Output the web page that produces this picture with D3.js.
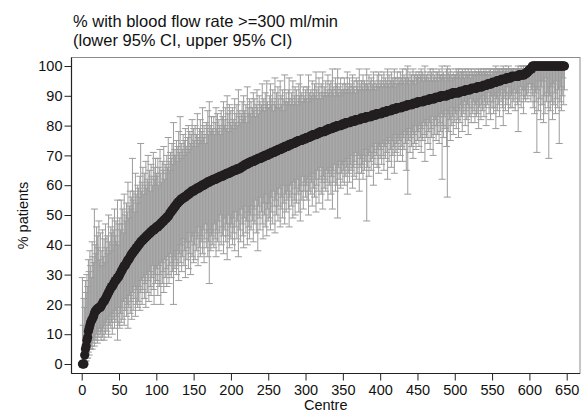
<!DOCTYPE html>
<html>
<head>
<meta charset="utf-8">
<script src="https://cdn.jsdelivr.net/npm/d3@7"></script>
<style>
  body { margin: 0; background: #fff; }
  svg { display: block; font-family: "Liberation Sans", Arial, sans-serif; }
</style>
</head>
<body>
<svg id="chart" width="587" height="412"></svg>
<script>
// % of patients per centre (sorted), one value per centre, 25 centres per row
const est = [
  0,0,0,3,5, 6,8,9,11,12, 13,14,14.5,15,15.5, 16,17,17.5,18,18, 18.5,18.5,19,19,19,
  19.5,20,20.5,21,21, 21.5,22,22.5,23,23.5, 24,24.5,25,25.5,26, 26,26.5,27,27.5,28, 28,28.5,29,29,29.5,
  30,30.5,31,31.5,32, 32.5,33,33,33.5,34, 34.5,35,35,35.5,36, 36.5,37,37,37.5,38, 38,38.5,39,39,39.5,
  40,40,40.5,41,41, 41.5,41.5,42,42,42.5, 42.5,43,43,43.5,43.5, 44,44,44.5,44.5,45, 45,45,45.5,45.5,46,
  46,46,46.5,46.5,47, 47,47.5,47.5,48,48, 48.5,48.5,49,49,49.5, 49.5,50,50.5,51,51, 51.5,52,52,52.5,53,
  53,53.5,54,54,54.5, 54.5,55,55,55.5,55.5, 55.5,56,56,56,56.5, 56.5,57,57,57,57.5, 57.5,58,58,58,58,
  58.5,58.5,58.5,59,59, 59,59,59.5,59.5,59.5, 60,60,60,60,60.5, 60.5,60.5,61,61,61, 61,61.5,61.5,61.5,61.5,
  62,62,62,62,62, 62.5,62.5,62.5,62.5,63, 63,63,63,63,63.5, 63.5,63.5,63.5,64,64, 64,64,64,64.5,64.5,
  64.5,64.5,65,65,65, 65,65,65.5,65.5,65.5, 65.5,65.5,66,66,66, 66.5,66.5,66.5,67,67, 67,67,67.5,67.5,67.5,
  67.5,68,68,68,68, 68,68.5,68.5,68.5,68.5, 69,69,69,69,69, 69.5,69.5,69.5,69.5,70, 70,70,70,70,70.5,
  70.5,70.5,70.5,71,71, 71,71,71,71.5,71.5, 71.5,71.5,72,72,72, 72,72,72.5,72.5,72.5, 72.5,73,73,73,73,
  73,73.5,73.5,73.5,73.5, 74,74,74,74,74, 74.5,74.5,74.5,74.5,75, 75,75,75,75,75, 75.5,75.5,75.5,75.5,75.5,
  76,76,76,76,76, 76.5,76.5,76.5,76.5,77, 77,77,77,77,77, 77.5,77.5,77.5,77.5,78, 78,78,78,78,78,
  78,78.5,78.5,78.5,78.5, 79,79,79,79,79, 79,79.5,79.5,79.5,79.5, 79.5,80,80,80,80, 80,80,80,80.5,80.5,
  80.5,80.5,80.5,81,81, 81,81,81,81,81, 81.5,81.5,81.5,81.5,81.5, 81.5,82,82,82,82, 82,82,82,82.5,82.5,
  82.5,82.5,82.5,82.5,82.5, 83,83,83,83,83, 83,83,83,83.5,83.5, 83.5,83.5,83.5,83.5,84, 84,84,84,84,84,
  84,84,84.5,84.5,84.5, 84.5,84.5,84.5,85,85, 85,85,85,85,85, 85.5,85.5,85.5,85.5,85.5, 85.5,86,86,86,86,
  86,86,86,86,86.5, 86.5,86.5,86.5,86.5,86.5, 87,87,87,87,87, 87,87,87,87.5,87.5, 87.5,87.5,87.5,87.5,88,
  88,88,88,88,88, 88,88,88,88.5,88.5, 88.5,88.5,88.5,88.5,88.5, 89,89,89,89,89, 89,89,89,89.5,89.5,
  89.5,89.5,89.5,89.5,89.5, 90,90,90,90,90, 90,90,90,90,90, 90.5,90.5,90.5,90.5,90.5, 90.5,91,91,91,91,
  91,91,91,91,91, 91,91.5,91.5,91.5,91.5, 91.5,91.5,91.5,92,92, 92,92,92,92,92, 92,92.5,92.5,92.5,92.5,
  92.5,92.5,92.5,92.5,93, 93,93,93,93,93, 93,93,93.5,93.5,93.5, 93.5,93.5,93.5,94,94, 94,94,94,94,94.5,
  94.5,94.5,94.5,94.5,94.5, 95,95,95,95,95, 95,95.5,95.5,95.5,95.5, 95.5,95.5,95.5,96,96, 96,96,96,96,96,
  96.5,96.5,96.5,96.5,96.5, 96.5,96.5,96.5,96.5,96.5, 97,97,97,97,97, 97,97,97,97.5,97.5, 97.5,98,98,98.5,98.5,
  99,99,99,100,100, 100,100,100,100,100, 100,100,100,100,100, 100,100,100,100,100, 100,100,100,100,100,
  100,100,100,100,100, 100,100,100,100,100, 100,100,100,100,100, 100,100,100,100,100, 100,100
];

// lower 95% CI
const ciLower = [
  0,0,0,0,1, 1,2,2,4,3, 5,5,6,5,7, 8,6,9,8,10, 7,11,9,12,10,
  8,11,9,12,8, 13,10,14,11,15, 9,13,16,12,14, 10,17,15,12,18, 14,16,8,19,13,
  12,17,14,19,15, 21,13,18,22,16, 20,12,19,23,17, 21,15,24,18,22, 26,16,20,25,19,
  21,26,18,24,28, 20,25,29,22,27, 19,30,24,28,21, 31,26,23,29,33, 25,20,30,27,32,
  28,23,33,26,30, 20,34,27,31,24, 35,29,32,26,36, 30,27,33,37,29, 34,31,20,36,32,
  35,30,38,33,28, 37,34,40,31,36, 42,33,38,29,41, 35,39,32,44,37, 30,41,36,43,34,
  40,35,44,38,42, 33,46,39,36,43, 41,37,45,34,42, 47,39,44,36,41, 27,45,38,43,40,
  44,39,47,42,36, 45,41,48,38,44, 50,40,46,43,37, 49,45,41,47,35, 43,50,39,46,42,
  47,40,49,44,38, 51,46,42,48,36, 50,45,41,52,47, 43,39,49,53,44, 48,40,51,46,42,
  50,45,53,48,41, 52,47,55,44,50, 38,53,49,45,56, 51,47,42,54,50, 46,57,43,52,48,
  54,49,45,56,51, 47,58,53,44,55, 50,57,48,53,59, 46,52,56,49,60, 54,47,57,51,55,
  58,52,46,56,60, 53,57,49,61,55, 50,59,54,62,57, 51,58,48,60,55, 63,52,58,61,56,
  60,55,62,50,58, 63,57,61,53,64, 59,56,62,51,60, 65,58,54,62,66, 57,61,52,63,59,
  62,58,65,61,55, 64,60,66,57,63, 52,65,61,67,58, 64,60,49,66,62, 68,59,64,67,61,
  65,60,68,63,66, 57,69,64,61,67, 65,70,59,66,63, 68,71,62,67,64, 70,58,66,69,64,
  67,62,70,65,68, 72,48,66,70,63, 71,68,65,73,69, 60,71,67,74,70, 66,72,64,73,69,
  72,67,74,70,65, 73,69,75,71,62, 74,68,76,72,66, 75,70,73,64,77, 71,74,68,76,72,
  75,70,77,73,68, 76,72,78,74,65, 77,57,75,79,71, 76,73,78,69,77, 74,80,72,78,75,
  78,73,80,76,71, 79,75,81,77,68, 80,76,82,74,78, 81,72,79,76,83, 70,80,77,82,75,
  80,77,83,74,81, 78,84,62,80,76, 83,79,85,73,56, 84,78,82,75,86, 80,83,77,85,81,
  84,79,86,82,76, 85,81,87,83,78, 86,84,88,80,85, 82,87,77,86,83, 89,81,86,84,88,
  85,81,87,83,88, 84,79,86,89,82, 87,85,90,83,88, 86,80,89,87,91, 84,88,82,90,86,
  88,84,90,86,79, 89,85,91,87,83, 90,88,92,86,80, 89,91,85,90,87, 93,84,89,91,86,
  90,86,91,88,92, 85,89,91,87,78, 91,88,93,86,90, 92,84,89,92,88, 90,93,89,91,94,
  94,88,92,90,86, 93,84,91,88,71, 92,85,95,89,82, 93,87,95,81,90, 84,96,88,91,86,
  69,90,85,93,88, 82,94,87,91,84, 95,89,86,92,74, 88,93,85,90,96, 87,92
];

// upper 95% CI
const ciUpper = [
  29,13,22,19,28, 24,30,26,35,31, 38,33,29,41,36, 34,52,40,37,46, 43,39,48,35,44,
  38,33,45,36,42, 34,47,39,43,37, 50,41,38,46,44, 49,40,45,52,43, 48,41,55,40,47,
  49,45,55,47,52, 44,57,50,48,54, 51,61,49,53,58, 52,56,69,55,58, 51,64,57,54,60,
  59,56,63,74,58, 61,66,57,64,60, 68,59,62,70,61, 65,58,67,63,60, 71,66,62,69,64,
  63,69,60,66,72, 64,61,68,65,73, 62,67,64,70,66, 76,68,65,71,69, 74,67,81,70,72,
  70,75,68,73,78, 71,83,69,74,72, 77,70,75,79,73, 71,76,80,72,78, 74,77,82,73,79,
  75,80,73,77,84, 76,74,79,82,75, 78,86,76,80,77, 74,81,79,85,77, 88,80,78,83,79,
  78,83,77,81,86, 79,84,78,82,80, 77,85,79,83,88, 80,82,86,79,90, 84,78,87,81,85,
  80,86,82,79,89, 81,84,87,80,92, 83,85,81,84,88, 82,90,85,83,87, 81,93,84,86,89,
  84,88,83,86,91, 85,89,83,87,92, 86,84,90,88,85, 87,94,86,89,85, 91,87,95,88,86,
  86,90,94,87,89, 92,85,88,96,87, 91,86,93,89,86, 95,90,87,92,85, 89,97,88,91,87,
  88,92,96,89,87, 91,89,95,87,90, 93,88,92,87,89, 94,90,97,88,91, 88,93,90,89,92,
  89,93,88,97,91, 89,92,90,95,89, 91,94,90,98,92, 89,93,96,91,89, 94,91,98,90,93,
  91,95,90,92,97, 91,94,90,95,92, 99,91,93,90,96, 92,94,99,91,93, 90,96,92,91,94,
  92,96,91,94,92, 98,91,93,96,92, 94,91,97,93,95, 92,91,96,93,95, 92,99,94,92,95,
  93,97,92,95,94, 92,99,94,93,97, 92,95,96,92,94, 98,93,95,92,94, 97,93,98,93,95,
  94,97,93,95,98, 94,96,93,95,99, 94,97,93,95,98, 94,96,95,99,93, 96,94,98,94,96,
  95,98,94,96,99, 95,97,94,96,99, 95,100,96,94,98, 95,97,95,99,95, 97,94,98,96,97,
  96,98,95,97,99, 96,98,95,97,100, 96,97,95,98,96, 95,99,97,98,95, 99,96,97,95,98,
  96,98,95,99,97, 97,96,100,97,98, 96,97,95,99,100, 96,98,97,99,95, 97,96,98,96,97,
  97,99,96,98,99, 97,98,96,98,99, 97,98,96,99,97, 98,97,99,97,98, 96,99,97,98,97,
  98,99,97,98,97, 98,99,98,97,99, 98,98,97,99,98, 98,99,97,98,97, 99,98,99,97,98,
  98,99,98,99,100, 98,99,98,99,99, 98,99,98,99,100, 99,98,99,99,99, 98,100,99,98,99,
  99,99,99,99,98, 99,99,99,99,100, 99,99,99,100,99, 99,100,99,99,100, 99,99,100,99,99,
  100,100,100,100,100, 100,100,100,100,100, 100,100,100,100,100, 100,100,100,100,100, 100,100,100,100,100,
  100,100,100,100,100, 100,100,100,100,100, 100,100,100,100,100, 100,100,100,100,100, 100,100
];

const yTicks = [0, 10, 20, 30, 40, 50, 60, 70, 80, 90, 100];
const xTicks = [0, 50, 100, 150, 200, 250, 300, 350, 400, 450, 500, 550, 600, 650];
const titleLines = ['% with blood flow rate >=300 ml/min', '(lower 95% CI, upper 95% CI)'];
const xTitle = 'Centre';
const yTitle = '% patients';

const svg = d3.select('#chart');
const frame = { left: 71.5, right: 580, top: 57.5, bottom: 373.5 };

const x = d3.scaleLinear().domain([0, 650]).range([81.7, 566.7]);
const y = d3.scaleLinear().domain([0, 100]).range([364, 66]);

const rows = est.map((v, i) => ({
  centre: i + 1,
  v: v,
  lo: ciLower[i],
  hi: ciUpper[i]
})).filter(d => d.lo != null && d.hi != null);

// plot region box (top/right grey)
svg.append('rect')
  .attr('x', frame.left).attr('y', frame.top)
  .attr('width', frame.right - frame.left).attr('height', frame.bottom - frame.top)
  .attr('fill', 'none').attr('stroke', '#8c8c8c').attr('stroke-width', 1);

// error bars
const capW = 3.5;
const bars = svg.append('g').attr('stroke', '#9c9c9c').attr('stroke-width', 1).attr('fill', 'none');
bars.selectAll('path')
  .data(rows)
  .enter()
  .append('path')
  .attr('d', d => {
    const cx = x(d.centre), y0 = y(d.lo), y1 = y(d.hi);
    return `M${cx},${y0}V${y1}M${cx - capW},${y1}H${cx + capW}M${cx - capW},${y0}H${cx + capW}`;
  });

// point estimates
svg.append('g')
  .selectAll('circle')
  .data(rows)
  .enter()
  .append('circle')
  .attr('cx', d => x(d.centre))
  .attr('cy', d => y(d.v))
  .attr('r', 4.6)
  .attr('fill', '#231f20');

// axes
const yAxis = d3.axisLeft(y).tickValues(yTicks).tickSize(7).tickPadding(2).tickSizeOuter(0);
const gy = svg.append('g').attr('transform', `translate(${frame.left},0)`).call(yAxis);
const xAxis = d3.axisBottom(x).tickValues(xTicks).tickSize(7).tickPadding(4).tickSizeOuter(0);
const gx = svg.append('g').attr('transform', `translate(0,${frame.bottom})`).call(xAxis);

[gy, gx].forEach(g => {
  g.select('.domain').remove();
  g.selectAll('.tick line').attr('stroke', '#222');
  g.selectAll('.tick text').attr('fill', '#111').style('font-size', '14.5px').style('font-family', '"Liberation Sans", Arial, sans-serif');
});

// dark axis lines
svg.append('line').attr('x1', frame.left).attr('x2', frame.left).attr('y1', frame.top).attr('y2', frame.bottom)
  .attr('stroke', '#222').attr('stroke-width', 1.2);
svg.append('line').attr('x1', frame.left).attr('x2', frame.right).attr('y1', frame.bottom).attr('y2', frame.bottom)
  .attr('stroke', '#222').attr('stroke-width', 1.2);

// titles
svg.append('g').selectAll('text')
  .data(titleLines)
  .enter()
  .append('text')
  .attr('x', 73)
  .attr('y', (d, i) => 27 + i * 18.5)
  .style('font-size', '16.5px')
  .attr('fill', '#111')
  .text(d => d);

svg.append('text')
  .attr('x', (frame.left + frame.right) / 2)
  .attr('y', 410)
  .attr('text-anchor', 'middle')
  .style('font-size', '14.5px')
  .attr('fill', '#111')
  .text(xTitle);

svg.append('text')
  .attr('transform', `translate(28,${(frame.top + frame.bottom) / 2}) rotate(-90)`)
  .attr('text-anchor', 'middle')
  .style('font-size', '14.5px')
  .attr('fill', '#111')
  .text(yTitle);
</script>
</body>
</html>
